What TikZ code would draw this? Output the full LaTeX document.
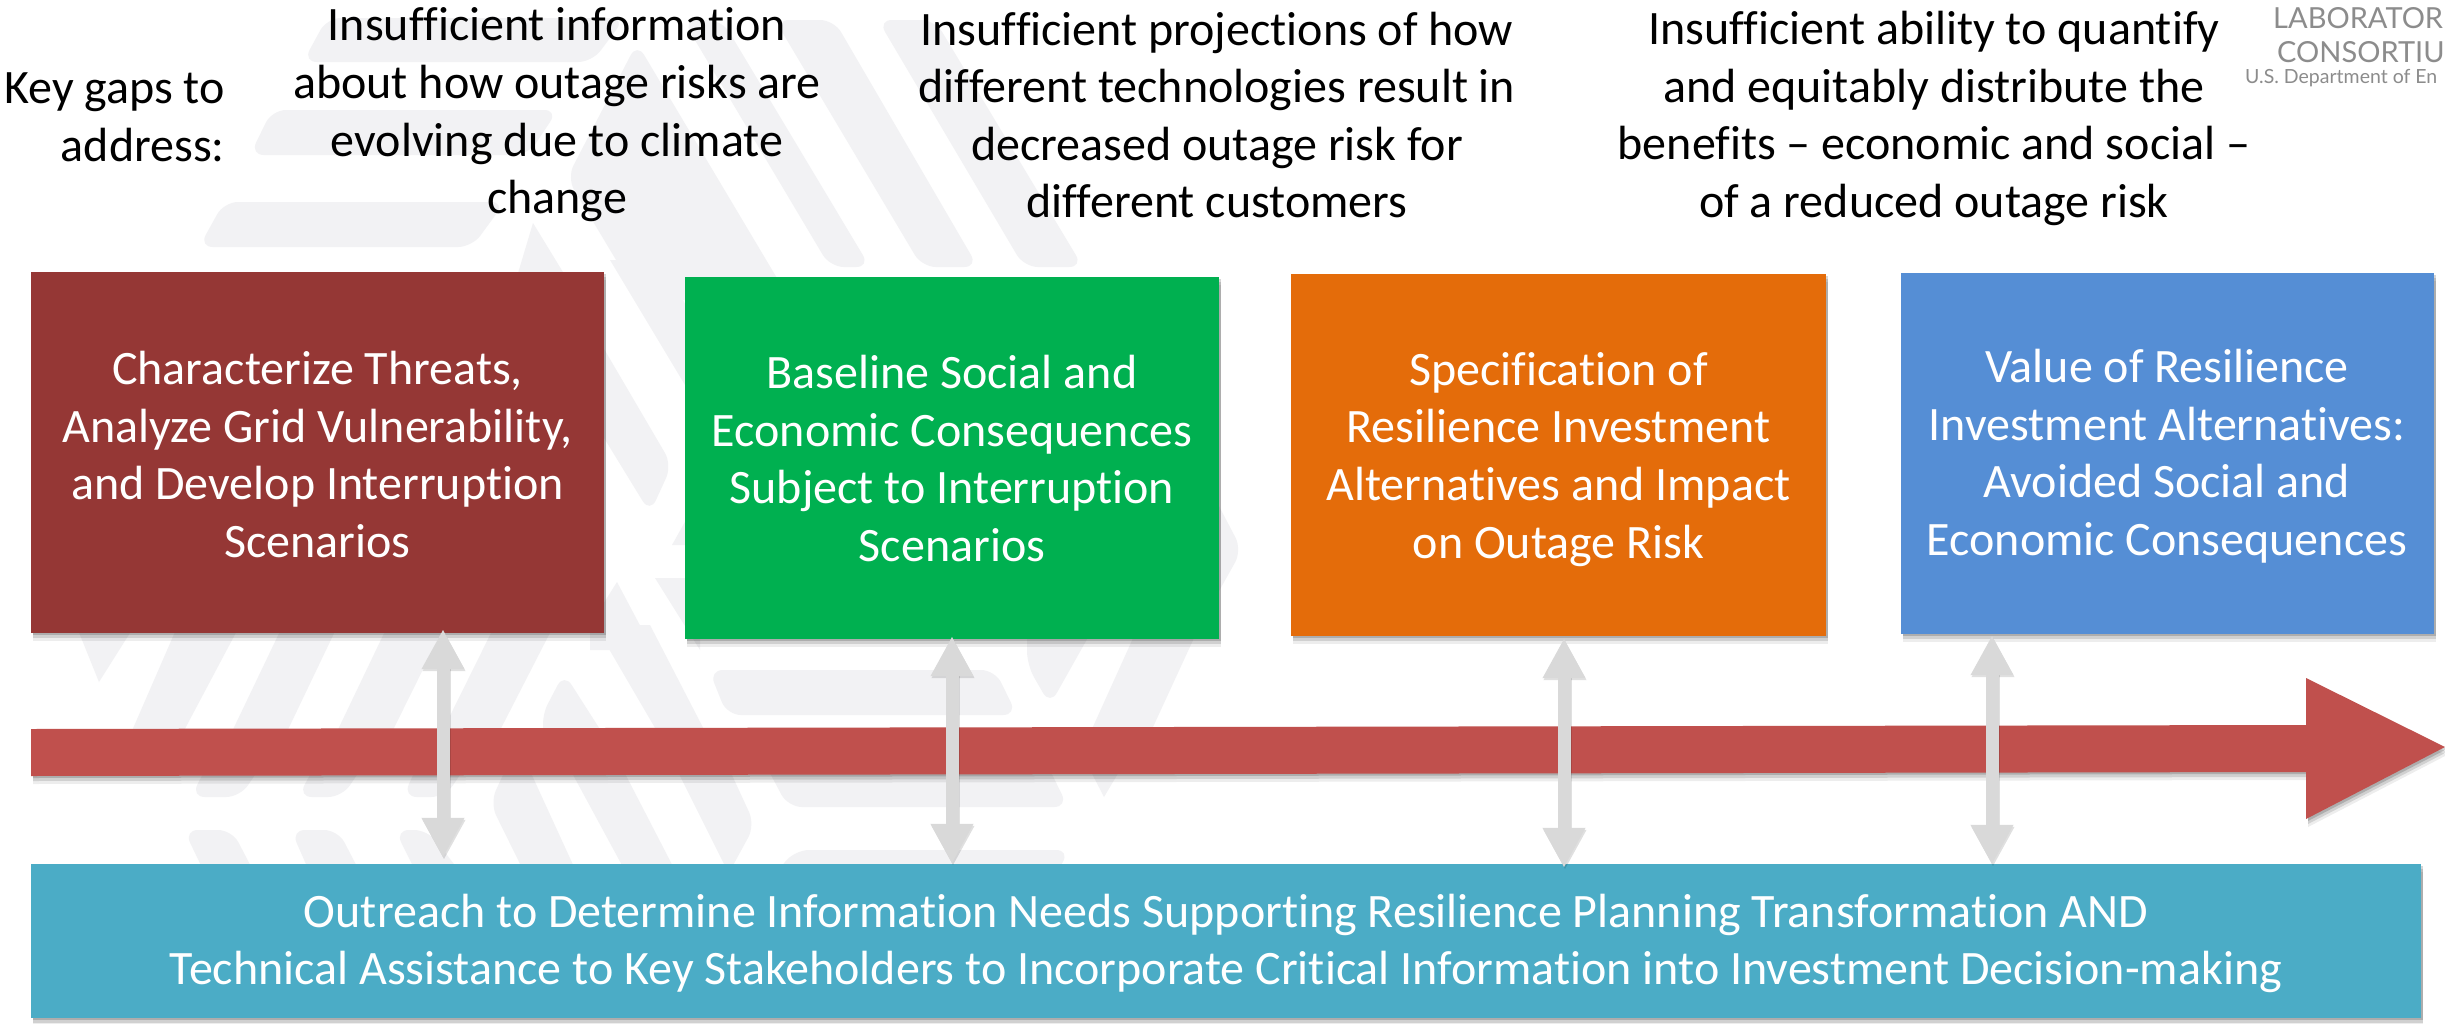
\documentclass[tikz,border=0pt]{standalone}
\usepackage{fontspec}
\setmainfont{Carlito}[Ligatures=NoCommon]
\newfontfamily\logofont{Lato}
\usetikzlibrary{shadows,calc,arrows.meta}
\definecolor{wmgray}{HTML}{F2F2F4}
\definecolor{boxred}{HTML}{953735}
\definecolor{boxgreen}{HTML}{00B050}
\definecolor{boxorange}{HTML}{E46C0A}
\definecolor{boxblue}{HTML}{558ED5}
\definecolor{barteal}{HTML}{4BACC6}
\definecolor{arrowred}{HTML}{C0504D}
\definecolor{dblgray}{HTML}{D9D9D9}
\definecolor{logogray}{HTML}{8C8C8C}
\newcommand{\topline}[1]{\rule{0pt}{#1pt}}
\newcommand{\lastline}{\rule[-12pt]{0pt}{12pt}}
\tikzset{
  softshadow/.style={
    drop shadow={shadow xshift=2pt,shadow yshift=-2pt,opacity=.16,fill=black},
    drop shadow={shadow xshift=2pt,shadow yshift=-5pt,opacity=.12,fill=black},
    drop shadow={shadow xshift=2pt,shadow yshift=-8pt,opacity=.07,fill=black}},
  wm/.style={fill=wmgray,draw=none},
  wmr/.style={fill=wmgray,draw=none,rounded corners=14pt},
  bigbox/.style={inner sep=0pt,text=white,align=center,softshadow,font=\fontsize{48}{57.6}\selectfont},
  gaptext/.style={inner sep=0pt,text=black,align=center,font=\fontsize{48}{57.6}\selectfont},
  dbl/.style={draw=dblgray,line width=13pt,{Triangle[length=40pt,width=40pt,fill=dblgray]}-{Triangle[length=40pt,width=40pt,fill=dblgray]}},
  dblshadow/.style={draw=black,opacity=.12,line width=13pt,{Triangle[length=40pt,width=40pt,fill=black]}-{Triangle[length=40pt,width=40pt,fill=black]}},
}
\begin{document}
\begin{tikzpicture}[x=1pt,y=-1pt]
\useasboundingbox (0,0) rectangle (2445,1023);
\fill[white] (0,0) rectangle (2445,1023);
% watermark, top band
\path[wmr] (303,62) -- (327,18) -- (625,18) -- (592,62) -- cycle;
\path[wmr] (250,155) -- (272,110) -- (558,110) -- (528,155) -- cycle;
\path[wmr] (199,247) -- (224,202) -- (505,202) -- (472,247) -- cycle;
\path[wmr] (637,43) -- (790,300) -- (640,300) -- (567,178) -- cycle;
\path[wm] (533,223) -- (580,300) -- (510,300) -- cycle;
\path[wmr] (683,20) -- (722,20) -- (870,267) -- (830,267) -- cycle;
\path[wmr] (775,20) -- (834,20) -- (978,267) -- (922,267) -- cycle;
\path[wmr] (878,20) -- (935,20) -- (1083,267) -- (1024,267) -- cycle;
% watermark, gaps between boxes
\path[wm] (610,260) -- (660,260) -- (700,330) -- (700,410) -- cycle;
\path[wmr] (590,325) -- (672,465) -- (650,513) -- (590,415) -- cycle;
\path[wm] (672,545) -- (700,495) -- (700,545) -- cycle;
\path[wm] (655,578) -- (700,578) -- (700,650) -- cycle;
\path[wm] (617,582) -- (653,650) -- (590,650) -- (590,625) -- cycle;
\path[wmr] (1200,470) -- (1242,550) -- (1200,625) -- cycle;
% watermark, band under boxes
\path[wm] (76,625) -- (135,625) -- (99,682) -- cycle;
\path[wm] (178,625) -- (240,625) -- (179,740) -- (128,740) -- cycle;
\path[wm] (283,625) -- (338,625) -- (283,740) -- (228,740) -- cycle;
\path[wm] (388,625) -- (445,625) -- (388,740) -- (333,740) -- cycle;
\path[wm] (495,625) -- (554,625) -- (495,740) -- (438,740) -- cycle;
\path[wmr] (564,673) -- (541,717) -- (546,745) -- (610,745) -- cycle;
\path[wm] (595,625) -- (650,625) -- (712,745) -- (665,745) -- cycle;
\path[wmr] (709,670) -- (727,715) -- (1017,715) -- (995,670) -- cycle;
\path[wmr] (1027,625) -- (1027,665) -- (1050,705) -- (1095,625) -- cycle;
\path[wm] (1139,625) -- (1200,625) -- (1147,740) -- (1087,740) -- cycle;
% watermark, band above bar
\path[wmr] (191,797) -- (240,797) -- (265,760) -- (210,760) -- cycle;
\path[wmr] (298,797) -- (342,797) -- (367,760) -- (318,760) -- cycle;
\path[wmr] (403,797) -- (445,797) -- (470,760) -- (420,760) -- cycle;
\path[wmr] (184,830) -- (232,830) -- (258,880) -- (208,880) -- cycle;
\path[wmr] (291,830) -- (338,830) -- (364,880) -- (313,880) -- cycle;
\path[wmr] (395,830) -- (428,830) -- (466,880) -- (420,880) -- cycle;
\path[wmr] (510,760) -- (490,803) -- (528,880) -- (580,880) -- (525,760) -- cycle;
\path[wm] (565,760) -- (618,760) -- (680,880) -- (630,880) -- cycle;
\path[wmr] (672,760) -- (725,760) -- (755,825) -- (725,880) -- (732,880) -- cycle;
\path[wmr] (763,760) -- (788,807) -- (1068,807) -- (1045,760) -- cycle;
\path[wm] (1085,760) -- (1104,797) -- (1126,760) -- cycle;
\path[wmr] (770,880) -- (795,850) -- (1070,850) -- (1052,880) -- cycle;
% key gaps and gap statements
\node[gaptext,align=right,anchor=east] (keygaps) at (225,117) {Key gaps to\\address:};
\node[gaptext] (gap1) at (557,115) {Insufficient information\\about how outage risks are\\evolving due to climate\\change};
\node[gaptext] (gap2) at (1217,115) {Insufficient projections of how\\different technologies result in\\decreased outage risk for\\different customers};
\node[gaptext] (gap3) at (1934,118.5) {Insufficient ability to quantify\\and equitably distribute the\\benefits – economic and social –\\of a reduced outage risk};
% logo, cut off by the page edge
\node[anchor=base west,inner sep=0pt,text=logogray,font={\logofont\fontsize{29}{29}\selectfont}] (logoa) at (2273,28) {LABORATOR};
\node[anchor=base west,inner sep=0pt,text=logogray,font={\logofont\fontsize{29}{29}\selectfont}] (logob) at (2277,62) {CONSORTIU};
\node[anchor=base west,inner sep=0pt,text=logogray,font={\logofont\fontsize{19.5}{19.5}\selectfont}] (logoc) at (2245,83) {U.S. Department of En};
% main arrow
\path[fill=arrowred,softshadow] (31,729) -- (2306,725) -- (2306,678) -- (2445,747) -- (2306,819) -- (2306,772) -- (31,776) -- cycle;
% boxes
\node[bigbox,fill=boxred,minimum width=573pt,minimum height=361pt] (b1) at (317.5,452.5) {\topline{49}Characterize Threats,\\Analyze Grid Vulnerability,\\and Develop Interruption\\Scenarios\lastline};
\node[bigbox,fill=boxgreen,minimum width=534pt,minimum height=362pt] (b2) at (952,458) {\topline{46}Baseline Social and\\Economic Consequences\\Subject to Interruption\\Scenarios\lastline};
\node[bigbox,fill=boxorange,minimum width=535pt,minimum height=362pt] (b3) at (1558.5,455) {\topline{45.4}Specification of\\Resilience Investment\\Alternatives and Impact\\on Outage Risk\lastline};
\node[bigbox,fill=boxblue,minimum width=533pt,minimum height=361pt] (b4) at (2167,453.5) {\topline{43}Value of Resilience\\Investment Alternatives:\\Avoided Social and\\Economic Consequences\lastline};
\node[bigbox,fill=barteal,minimum width=2390pt,minimum height=154pt] (bar) at (1226,941) {\topline{42}Outreach to Determine Information Needs Supporting Resilience Planning Transformation AND\\Technical Assistance to Key Stakeholders to Incorporate Critical Information into Investment Decision-making\lastline};
% double arrows
\draw[dblshadow,transform canvas={xshift=1pt,yshift=-2pt}] ($(b1.south)+(125.5,-4)$) -- ($(bar.north)+(-783,-6)$);
\draw[dblshadow,transform canvas={xshift=1pt,yshift=-2pt}] ($(b2.south)+(0,-3)$) -- ($(bar.north)+(-274,0)$);
\draw[dblshadow,transform canvas={xshift=1pt,yshift=-2pt}] ($(b3.south)+(5.5,2)$) -- ($(bar.north)+(338,4)$);
\draw[dblshadow,transform canvas={xshift=1pt,yshift=-2pt}] ($(b4.south)+(-175,1)$) -- ($(bar.north)+(766,1)$);
\draw[dbl] ($(b1.south)+(125.5,-4)$) -- ($(bar.north)+(-783,-6)$);
\draw[dbl] ($(b2.south)+(0,-3)$) -- ($(bar.north)+(-274,0)$);
\draw[dbl] ($(b3.south)+(5.5,2)$) -- ($(bar.north)+(338,4)$);
\draw[dbl] ($(b4.south)+(-175,1)$) -- ($(bar.north)+(766,1)$);
\end{tikzpicture}
\end{document}
